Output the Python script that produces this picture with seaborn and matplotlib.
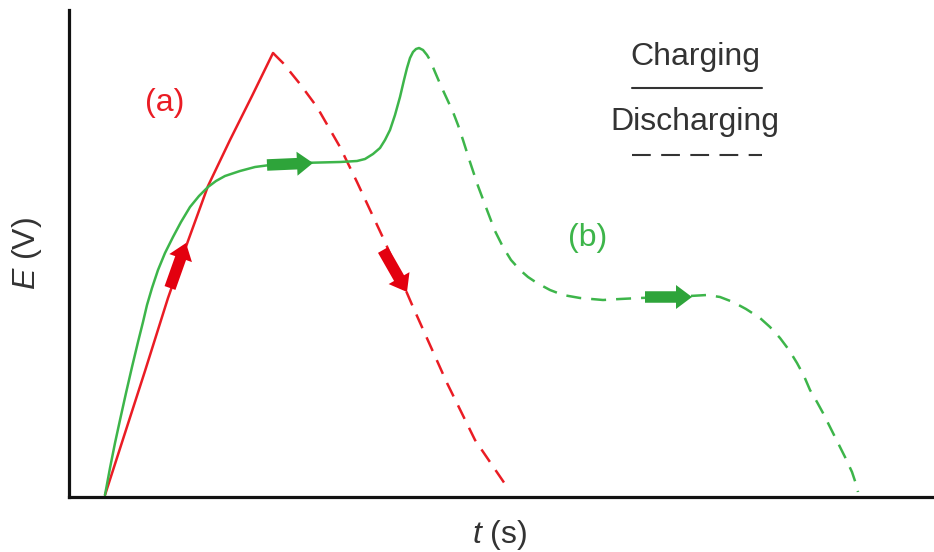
import matplotlib
matplotlib.use("Agg")
import matplotlib.pyplot as plt
from matplotlib.patches import FancyArrow
import pandas as pd
import seaborn as sns

# Curve (a): charging then discharging (t in s, E in V)
a_charge_t = [3.6, 5.6, 7.6, 9.9, 11.9, 13.9, 16.1, 18.3, 20.4]
a_charge_E = [0.2, 6.4, 12.6, 19.9, 25.6, 31.1, 35.7, 40.1, 44.4]
a_dis_t = [20.4, 21.4, 23.1, 24.8, 27.1, 28.8, 31.6, 34.4, 37.8, 40.6, 43.6]
a_dis_E = [44.4, 43.4, 41.3, 39.0, 35.0, 31.5, 25.5, 19.0, 11.4, 5.7, 1.3]

# Curve (b): charging with plateau, then discharging with plateau
b_charge_t = [3.6, 4.1, 4.6, 5.1, 5.7, 6.3, 6.9, 7.4, 7.8, 8.3, 8.9, 9.6,
              10.4, 11.2, 12.1, 13.0, 13.9, 14.7, 15.6, 17.1, 18.6, 20.1,
              23.1, 27.1, 28.8, 29.6, 30.4, 31.1, 31.6, 32.1, 32.6, 33.1,
              33.5, 33.8, 34.1, 34.4, 34.7, 35.0]
b_charge_E = [0.2, 2.9, 5.4, 7.7, 10.4, 13.0, 15.5, 17.5, 19.2, 20.9, 22.7, 24.4,
              26.0, 27.5, 29.0, 30.1, 31.0, 31.6, 32.1, 32.6, 33.0, 33.2,
              33.4, 33.5, 33.6, 33.8, 34.3, 34.9, 35.7, 36.7, 38.2, 40.0,
              41.7, 42.9, 43.9, 44.5, 44.8, 44.9]
b_dis_t = [35.0, 35.4, 35.8, 36.1, 36.6, 37.2, 37.8, 38.4, 38.9, 39.4, 40.1,
           40.9, 41.8, 42.6, 43.4, 44.2, 45.1, 45.9, 46.8, 48.1, 49.4, 51.1,
           53.4, 55.1, 57.1, 60.1, 62.1, 63.8, 65.1, 66.4, 67.7, 69.1, 70.1,
           71.1, 72.0, 72.8, 73.5, 74.1, 74.8, 75.4, 76.4, 77.6, 78.3, 78.8,
           78.9]
b_dis_E = [44.9, 44.7, 44.2, 43.7, 42.5, 41.1, 39.8, 38.5, 37.2, 35.7, 33.5,
           31.1, 28.7, 26.6, 25.0, 23.7, 22.7, 22.0, 21.4, 20.7, 20.2, 19.9,
           19.7, 19.8, 19.9, 20.0, 20.1, 20.2, 20.0, 19.5, 18.8, 17.9, 17.0,
           15.9, 14.7, 13.4, 12.1, 10.7, 9.5, 8.4, 6.4, 4.0, 2.5, 1.0,
           0.5]

# Direction arrows: (t_start, E_start, t_end, E_end)
red_arrows = [(10.1, 20.9, 11.7, 25.4), (31.4, 24.7, 33.8, 20.5)]
green_arrows = [(19.8, 33.2, 24.4, 33.4), (57.6, 20.0, 62.3, 20.0)]

RED = "#ea1c24"
GREEN = "#3db54a"
RED_ARROW = "#e3000f"
GREEN_ARROW = "#2ea43a"
TEXT = "#333333"

sns.set_theme(style="white")
plt.rcParams["font.family"] = ["Liberation Sans", "DejaVu Sans"]
plt.rcParams["mathtext.fontset"] = "custom"
plt.rcParams["mathtext.it"] = "Liberation Sans:italic"
plt.rcParams["mathtext.rm"] = "Liberation Sans"

fig = plt.figure(figsize=(9.34, 5.52), dpi=100)
ax = fig.add_axes([69 / 934, 55 / 552, 865 / 934, 487 / 552])

dash = (0, (6, 4))
curves = [
    (a_charge_t, a_charge_E, RED, "-"),
    (a_dis_t, a_dis_E, RED, dash),
    (b_charge_t, b_charge_E, GREEN, "-"),
    (b_dis_t, b_dis_E, GREEN, dash),
]
for t, E, col, ls in curves:
    df = pd.DataFrame({"t": t, "E": E})
    sns.lineplot(data=df, x="t", y="E", ax=ax, color=col, lw=1.8,
                 linestyle=ls, sort=False, estimator=None)

for arrows, col in [(red_arrows, RED_ARROW), (green_arrows, GREEN_ARROW)]:
    for t0, e0, t1, e1 in arrows:
        ax.add_patch(FancyArrow(t0, e0, t1 - t0, e1 - e0, width=1.15,
                                head_width=2.4, head_length=1.6,
                                length_includes_head=True, color=col, lw=0,
                                zorder=5))

ax.set_xlim(0, 86.5)
ax.set_ylim(0, 48.7)
ax.set_xticks([])
ax.set_yticks([])
for side in ["top", "right"]:
    ax.spines[side].set_visible(False)
for side in ["left", "bottom"]:
    ax.spines[side].set_color("#111111")
    ax.spines[side].set_linewidth(2.3)

ax.text(9.6, 39.4, "(a)", color=RED, fontsize=23, ha="center", va="center")
ax.text(51.9, 25.9, "(b)", color=GREEN, fontsize=23, ha="center", va="center")

# Key for line styles
ax.text(62.6, 44.0, "Charging", color=TEXT, fontsize=23, ha="center", va="center")
ax.plot([56.3, 69.3], [40.9, 40.9], color=TEXT, lw=1.5)
ax.text(62.6, 37.5, "Discharging", color=TEXT, fontsize=23, ha="center", va="center")
ax.plot([56.3, 69.3], [34.2, 34.2], color=TEXT, lw=1.5, linestyle=(0, (9, 5)))

ax.set_xlabel(r"$\mathit{t}$ (s)", fontsize=23, color=TEXT, va="center")
ax.set_ylabel(r"$\mathit{E}$ (V)", fontsize=23, color=TEXT, va="center")
ax.xaxis.set_label_coords(0.498, -0.078)
ax.yaxis.set_label_coords(-0.049, 0.5)

fig.savefig("out.png", dpi=100)
